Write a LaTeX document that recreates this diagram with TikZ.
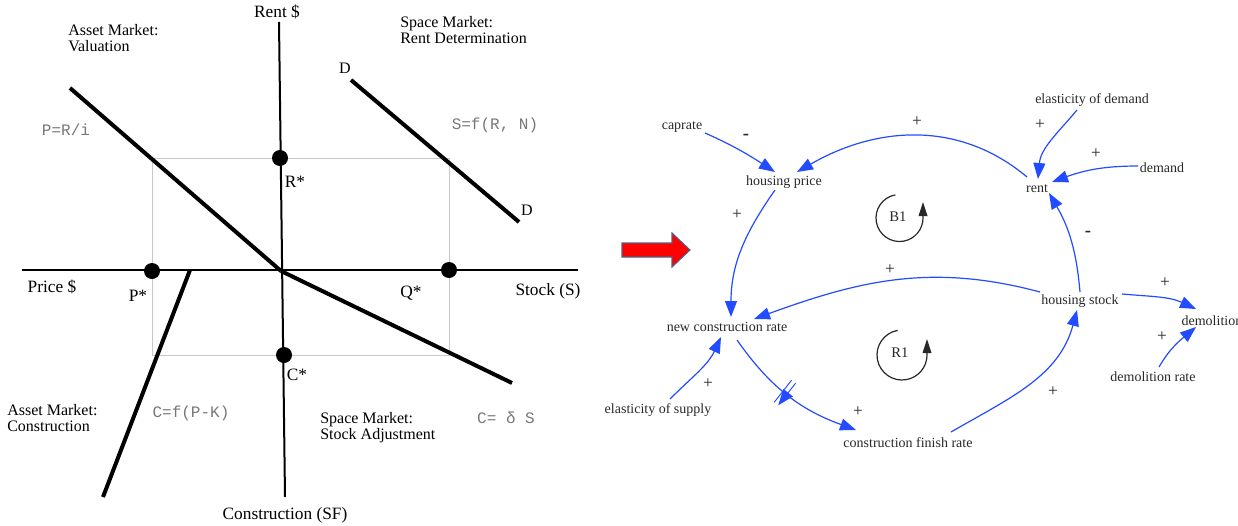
\documentclass[tikz,border=0pt]{standalone}
\usepackage{fontspec}
\setmainfont{Liberation Serif}
\newfontfamily\monofam{Liberation Mono}
\usetikzlibrary{arrows.meta,calc,decorations.markings}
\definecolor{cldblue}{RGB}{35,75,255}
\definecolor{txtgray}{RGB}{40,40,40}
\definecolor{formgray}{RGB}{120,120,120}
\definecolor{rectgray}{RGB}{200,200,200}
\definecolor{arrowedge}{RGB}{80,95,135}
\begin{document}
\begin{tikzpicture}[x=0.75pt,y=-0.75pt,
 lbl/.style={font=\fontsize{12}{12}\selectfont, align=left, inner sep=0pt},
 axlbl/.style={font=\fontsize{13}{14}\selectfont, inner sep=0pt},
 formula/.style={font=\monofam\fontsize{12}{13}\selectfont, text=formgray, inner sep=0pt},
 dot/.style={circle, fill=black, inner sep=0pt, minimum size=12pt},
 heavy/.style={line width=3pt},
 axis/.style={line width=1.5pt},
 guide/.style={draw=rectgray, line width=0.6pt},
 var/.style={font=\fontsize{10.5}{12}\selectfont, text=txtgray, inner sep=1pt},
 sign/.style={font=\fontsize{13}{13}\selectfont, text=txtgray, inner sep=0pt},
 negsign/.style={font=\bfseries\fontsize{14}{14}\selectfont, text=txtgray, inner sep=0pt},
 link/.style={draw=cldblue, line width=0.9pt, -{Triangle[length=12pt,width=9pt]}},
 loopsym/.style={draw=txtgray, line width=0.9pt, -{Triangle[length=10.5pt,width=6.5pt]}},
 delaymark/.style={postaction={decorate, decoration={markings,
   mark=at position #1 with {\draw[cldblue, line width=0.7pt] (-2.5,-14) -- (-2.5,14) (2.5,-14) -- (2.5,14);}}}},
]
\path[use as bounding box] (0,0) rectangle (1238,525);
\clip (0,0) rectangle (1238,525);

% ---------------- left: four-quadrant diagram ----------------
\coordinate (vtop) at (279,22);
\coordinate (vbot) at (285,497);
\coordinate (hl) at (22,270);
\coordinate (hr) at (578,270);
\coordinate (orig) at (281,271);
\coordinate (valtop) at (70,88);
\coordinate (dtop) at (351,80);
\coordinate (dbot) at (519,222);
\coordinate (stkend) at (512,383);
\coordinate (contop) at (190,270);
\coordinate (conbot) at (103,497);

% guide rectangle
\draw[guide] (152,158) rectangle (449,355);

% axes
\draw[axis] (vtop) -- (vbot);
\draw[axis] (hl) -- (hr);

% curves
\draw[heavy] (valtop) -- (orig);
\draw[heavy] (dtop) -- (dbot);
\draw[heavy] (orig) -- (stkend);
\draw[heavy] (contop) -- (conbot);

% dots
\node[dot] (pstar) at (152,271) {};
\node[dot] (rstar) at (280,158) {};
\node[dot] (qstar) at (449,270) {};
\node[dot] (cstar) at (284,355) {};

% axis labels
\node[axlbl] (rentax) at (277,12) {Rent \$};
\node[axlbl] (consax) at (285,515) {Construction (SF)};
\node[axlbl] (priceax) at (52,287) {Price \$};
\node[axlbl] (stockax) at (548,291) {Stock (S)};
\node[axlbl] (plbl) at (138,296) {P*};
\node[axlbl] (qlbl) at (411,293) {Q*};
\node[axlbl] (rlbl) at (295,182) {R*};
\node[axlbl] (clbl) at (297,375) {C*};
\node[lbl] (dlbl1) at (345,68) {D};
\node[lbl] (dlbl2) at (527,210) {D};

% quadrant titles
\node[lbl, anchor=west] (q1) at (68,38) {Asset Market:\\Valuation};
\node[lbl, anchor=west] (q2) at (400,30) {Space Market:\\Rent Determination};
\node[lbl, anchor=west] (q3) at (7,418) {Asset Market:\\Construction};
\node[lbl, anchor=west] (q4) at (320,428) {Space Market:\\Stock Adjustment};

% formulas
\node[formula] (f1) at (66,130) {P=R/i};
\node[formula] (f2) at (495,125) {S=f(R, N)};
\node[formula] (f3) at (191,413) {C=f(P-K)};
\node[formula] (f4) at (506,418) {C= δ S};

% ---------------- red arrow ----------------
\draw[fill=red, draw=arrowedge, line width=0.8pt]
  (622,243) -- (672,243) -- (672,233) -- (690,250) -- (672,267) -- (672,257) -- (622,257) -- cycle;

% ---------------- right: causal loop diagram ----------------
\node[var] (caprate) at (682,127) {caprate};
\node[var] (hp) at (784,182) {housing price};
\node[var] (eod) at (1092,100) {elasticity of demand};
\node[var] (demand) at (1162,168) {demand};
\node[var] (rent) at (1037,189) {rent};
\node[var] (hs) at (1080,301) {housing stock};
\node[var, anchor=west] (demo) at (1180,321) {demolition};
\node[var] (dr) at (1153,377) {demolition rate};
\node[var] (ncr) at (727,327) {new construction rate};
\node[var] (eos) at (658,410) {elasticity of supply};
\node[var] (cfr) at (908,443) {construction finish rate};

% links
\draw[link] ($(caprate.center)+(23,6)$) to[out=-24,in=147] ($(hp.center)+(-9,-10)$);
\draw[link] ($(rent.center)+(-10,-12)$) to[out=140,in=30] ($(hp.center)+(13,-10)$);
\draw[link] ($(eod.center)+(-15,10)$) to[out=-130,in=85] ($(rent.center)+(1,-10)$);
\draw[link] ($(demand.center)+(-24,-2)$) to[out=180,in=20] ($(rent.center)+(15,-7)$);
\draw[link] ($(hp.center)+(-9,8)$) to[out=-125,in=90] ($(ncr.center)+(4,-10)$);
\draw[link] ($(hs.center)+(0,-9)$) to[out=95,in=-60] ($(rent.center)+(12,4)$);
\draw[link] ($(hs.center)+(-40,-9)$) to[out=165,in=20] ($(ncr.center)+(27,-8)$);
\draw[link] ($(hs.center)+(42,-7)$) to[out=-5,in=155] ($(demo.west)+(16,-12)$);
\draw[link] ($(dr.center)+(6,-10)$) to[out=60,in=-140] ($(demo.west)+(16,6)$);
\draw[link] ($(eos.center)+(12,-11)$) to[out=45,in=-115] ($(ncr.center)+(-6,10)$);
\draw[link, delaymark=0.47] ($(ncr.center)+(10,13)$) to[out=-55,in=160] ($(cfr.center)+(-52,-13)$);
\draw[link] ($(cfr.center)+(43,-11)$) to[out=30,in=-105] ($(hs.center)+(-3,9)$);

% polarity signs
\node[negsign] (s1) at (746,137) {-};
\node[sign] (s2) at (917,122) {+};
\node[sign] (s3) at (1040,125) {+};
\node[sign] (s4) at (1096,154) {+};
\node[sign] (s5) at (737,215) {+};
\node[negsign] (s6) at (1088,234) {-};
\node[sign] (s7) at (890,270) {+};
\node[sign] (s8) at (1165,283) {+};
\node[sign] (s9) at (1162,337) {+};
\node[sign] (s10) at (708,384) {+};
\node[sign] (s11) at (858,412) {+};
\node[sign] (s12) at (1053,392) {+};

% loop symbols
\node[var, font=\fontsize{11}{12}\selectfont] (b1) at (898,217) {B1};
\coordinate (b1c) at (899.5,218);
\draw[loopsym] ($(b1c)+(-100:23.5)$) arc[start angle=-100, end angle=-360, radius=23.5] -- ++(0,-16);
\node[var, font=\fontsize{11}{12}\selectfont] (r1) at (900,353) {R1};
\coordinate (r1c) at (902,355);
\draw[loopsym] ($(r1c)+(-100:25)$) arc[start angle=-100, end angle=-360, radius=25] -- ++(0,-16);
\end{tikzpicture}
\end{document}
